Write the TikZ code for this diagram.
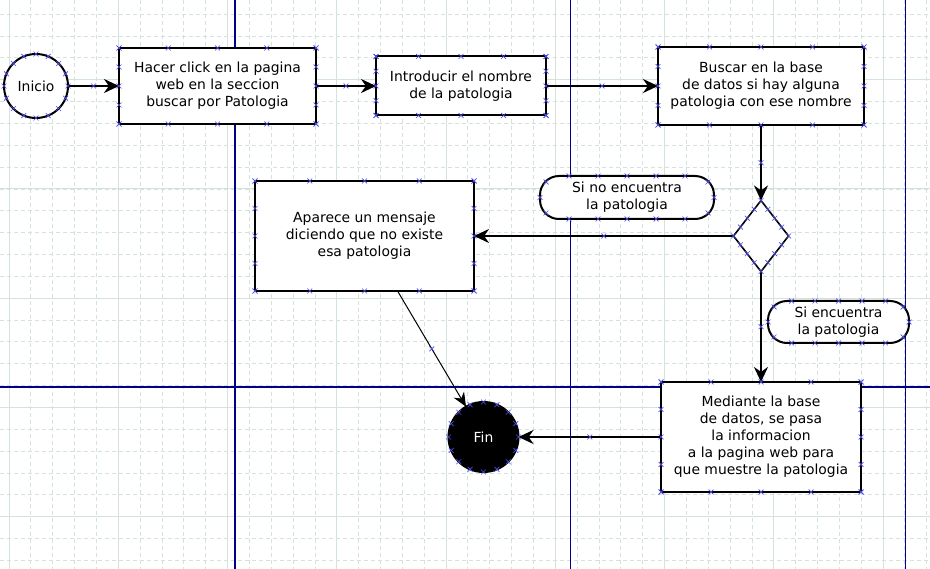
\documentclass[tikz,border=0pt]{standalone}
\usepackage{fontspec}
\setmainfont{DejaVu Sans}
\usetikzlibrary{shapes.geometric,arrows.meta,calc}

\definecolor{gridcol}{HTML}{D4E2DE}
\definecolor{lanecol}{HTML}{00008C}
\definecolor{markcol}{HTML}{4B4BE6}

\tikzset{
    xmark/.pic={\draw[markcol,line width=0.7pt] (-2.4,-2.4) to (2.4,2.4) (-2.4,2.4) to (2.4,-2.4);},
}

\newcommand{\boxmarks}[1]{%
    \foreach \t in {0,0.25,0.5,0.75,1}{%
        \pic at ($(#1.north west)!\t!(#1.north east)$) {xmark};
        \pic at ($(#1.south west)!\t!(#1.south east)$) {xmark};
        \pic at ($(#1.north west)!\t!(#1.south west)$) {xmark};
        \pic at ($(#1.north east)!\t!(#1.south east)$) {xmark};
    }}
\newcommand{\roundmarks}[2]{%
    \foreach \k in {0,...,15}{\pic at ($(#1)+({\k*22.5}:#2)$) {xmark};}}
\newcommand{\pillmarks}[1]{%
    \foreach \t in {0.1667,0.3333,0.5,0.6667,0.8333}{%
        \pic at ($(#1.north west)!\t!(#1.north east)$) {xmark};
        \pic at ($(#1.south west)!\t!(#1.south east)$) {xmark};
    }
    \pic at (#1.west) {xmark}; \pic at (#1.east) {xmark};
    \pic at ($(#1.north west)+(6,6)$) {xmark}; \pic at ($(#1.north east)+(-6,6)$) {xmark};
    \pic at ($(#1.south west)+(6,-6)$) {xmark}; \pic at ($(#1.south east)+(-6,-6)$) {xmark};}

\begin{document}
\begin{tikzpicture}[x=1pt,y=-1pt,
        every node/.style={font=\fontsize{13.9}{17}\selectfont,align=center,inner sep=0pt,outer sep=0pt},
        minorgrid/.style={gridcol,line width=0.8pt,dash pattern=on 4pt off 3pt},
        majorgrid/.style={gridcol,line width=1pt},
        lane/.style={lanecol,line width=1.2pt},
        box/.style={draw,fill=white,line width=2pt,rectangle},
        circ/.style={draw,fill=white,line width=2pt,circle},
        pill/.style={draw,fill=white,line width=2pt,rectangle,rounded corners=19pt},
        decision/.style={draw,fill=white,line width=1.6pt,diamond},
        flow/.style={line width=2pt,-{Stealth[length=15pt,width=14pt]}},
        thinflow/.style={line width=1pt,-{Stealth[length=14pt,width=12pt]}}]
            \useasboundingbox (0,0) rectangle (930,569);
            \fill[white] (0,0) rectangle (930,569);
            \foreach \k in {0,...,42} \draw[minorgrid] ({9+\k*21.85},0) to ({9+\k*21.85},569);
            \foreach \k in {-3,...,22} \draw[minorgrid] (0,{79.7+\k*21.85}) to (930,{79.7+\k*21.85});
            \foreach \k in {0,...,8} \draw[majorgrid] ({9+\k*109.25},0) to ({9+\k*109.25},569);
            \foreach \k in {0,...,4} \draw[majorgrid] (0,{79.7+\k*109.25}) to (930,{79.7+\k*109.25});
            \draw[lane] (235,0) to (235,569);
            \draw[lane] (570.7,0) to (570.7,569);
            \draw[lane] (905.5,0) to (905.5,569);
            \draw[lane] (0,387) to (930,387);
            %\node at (465,10) {};
            \node[circ,minimum size=64pt] (inicio) at (36,86) {Inicio};
            \node[box,minimum width=197pt,minimum height=76pt] (hacer) at (217.5,86) {Hacer click en la pagina\\web en la seccion\\buscar por Patologia};
            \node[box,minimum width=170pt,minimum height=59pt] (intro) at (461,86) {Introducir el nombre\\de la patologia};
            \node[box,minimum width=206pt,minimum height=78pt] (buscar) at (761,86) {Buscar en la base\\de datos si hay alguna\\patologia con ese nombre};
            \node[decision,minimum width=55pt,minimum height=71pt] (dec) at (761,236) {};
            \node[pill,minimum width=174pt,minimum height=43pt] (nohay) at (627,197.5) {Si no encuentra\\la patologia};
            \node[pill,minimum width=141pt,minimum height=42pt] (sihay) at (838.5,322) {Si encuentra\\la patologia};
            \node[box,minimum width=219pt,minimum height=110pt] (aparece) at (364.5,236) {Aparece un mensaje\\diciendo que no existe\\esa patologia};
            \node[box,minimum width=200pt,minimum height=110pt] (mediante) at (761,437) {Mediante la base\\de datos, se pasa\\la informacion\\a la pagina web para\\que muestre la patologia};
            \node[circ,fill=black,text=white,minimum size=70pt] (fin) at (483.5,437) {Fin};
            \draw[flow] (inicio) to (hacer);
            \draw[flow] (hacer) to (intro);
            \draw[flow] (intro) to (buscar);
            \draw[flow] (buscar) to (dec);
            \draw[flow] (dec) to (aparece);
            \draw[flow] (dec) to (mediante);
            \draw[flow] (mediante) to (fin);
            \draw[thinflow] (aparece.-59) to (fin.120);
            \boxmarks{hacer} \boxmarks{intro} \boxmarks{buscar} \boxmarks{aparece} \boxmarks{mediante}
            \roundmarks{inicio}{32} \roundmarks{fin}{35}
            \pillmarks{nohay} \pillmarks{sihay}
            \foreach \t in {0,0.25,0.5,0.75}{%
                \pic at ($(dec.north)!\t!(dec.east)$) {xmark};
                \pic at ($(dec.east)!\t!(dec.south)$) {xmark};
                \pic at ($(dec.south)!\t!(dec.west)$) {xmark};
                \pic at ($(dec.west)!\t!(dec.north)$) {xmark};
            }
            \pic at ($(inicio.east)!.5!(hacer.west)$) {xmark};
            \pic at ($(hacer.east)!.5!(intro.west)$) {xmark};
            \pic at ($(intro.east)!.5!(buscar.west)$) {xmark};
            \pic at ($(buscar.south)!.5!(dec.north)$) {xmark};
            \pic at ($(dec.west)!.5!(aparece.east)$) {xmark};
            \pic at ($(dec.south)!.5!(mediante.north)$) {xmark};
            \pic at ($(mediante.west)!.5!(fin.east)$) {xmark};
            \pic at ($(aparece.-59)!.5!(fin.120)$) {xmark};
        \end{tikzpicture}
\end{document}
